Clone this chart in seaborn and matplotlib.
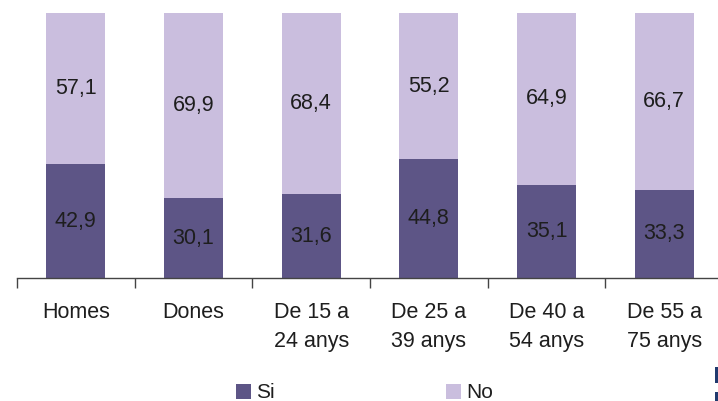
import matplotlib
matplotlib.use("Agg")
import matplotlib.pyplot as plt
import seaborn as sns
import pandas as pd
from matplotlib.patches import Patch, Rectangle
from matplotlib.ticker import FixedLocator

categories = ["Homes", "Dones", "De 15 a\n24 anys", "De 25 a\n39 anys", "De 40 a\n54 anys", "De 55 a\n75 anys"]
si_values = [42.9, 30.1, 31.6, 44.8, 35.1, 33.3]
no_values = [57.1, 69.9, 68.4, 55.2, 64.9, 66.7]

dark = "#5D5586"
light = "#CABEDE"

sns.set_theme(style="white")
plt.rcParams['font.family'] = ['Liberation Sans', 'DejaVu Sans']

df = pd.DataFrame({"cat": categories, "Si": si_values, "No": no_values})
df["total"] = df["Si"] + df["No"]

fig = plt.figure(figsize=(7.18, 4.01), dpi=100)
W, H = 718, 401
left_px, right_px, top_px, bot_px = 17, 723, 13, 278
ax = fig.add_axes([left_px / W, 1 - bot_px / H, (right_px - left_px) / W, (bot_px - top_px) / H])

sns.barplot(data=df, x="cat", y="total", color=light, width=0.5, ax=ax, saturation=1, edgecolor="none")
sns.barplot(data=df, x="cat", y="Si", color=dark, width=0.5, ax=ax, saturation=1, edgecolor="none")

for i, (s, n) in enumerate(zip(si_values, no_values)):
    ax.text(i, s / 2, f"{s:.1f}".replace(".", ","), ha="center", va="center", fontsize=15.5, color="#1e1e1e")
    ax.text(i, s + n / 2, f"{n:.1f}".replace(".", ","), ha="center", va="center", fontsize=15.5, color="#1e1e1e")

ax.set_xlim(-0.5, 5.5)
ax.set_ylim(0, 100)
ax.set_xlabel("")
ax.set_ylabel("")
ax.set_yticks([])
for sp in ["top", "right", "left"]:
    ax.spines[sp].set_visible(False)
ax.spines["bottom"].set_color("#444444")
ax.spines["bottom"].set_linewidth(1)
ax.tick_params(axis="x", which="major", length=0, pad=17.5, labelsize=15.5, labelcolor="#1e1e1e")
ax.xaxis.set_minor_locator(FixedLocator([i - 0.5 for i in range(7)]))
ax.tick_params(axis="x", which="minor", length=7, width=1, color="#444444", bottom=True, direction="out")
for lbl in ax.get_xticklabels():
    lbl.set_linespacing(1.5)
    lbl.set_verticalalignment("top")

handles = [Patch(facecolor=dark, edgecolor="none", label="Si"),
           Patch(facecolor=light, edgecolor="none", label="No")]
fig.legend(handles=handles, loc="center", bbox_to_anchor=(364.5 / W, 1 - 393 / H), ncol=2, frameon=False,
           fontsize=15, handlelength=0.72, handleheight=0.72, handletextpad=0.22, columnspacing=8.25,
           labelcolor="#1e1e1e", borderpad=0)

# small cut-off mark at the lower right corner
for y0, y1 in [(367, 383), (392, 401)]:
    fig.patches.append(Rectangle((715 / W, 1 - y1 / H), 3 / W, (y1 - y0) / H,
                                 transform=fig.transFigure, facecolor="#203A6E", edgecolor="none"))

fig.savefig("out.png", dpi=100)
